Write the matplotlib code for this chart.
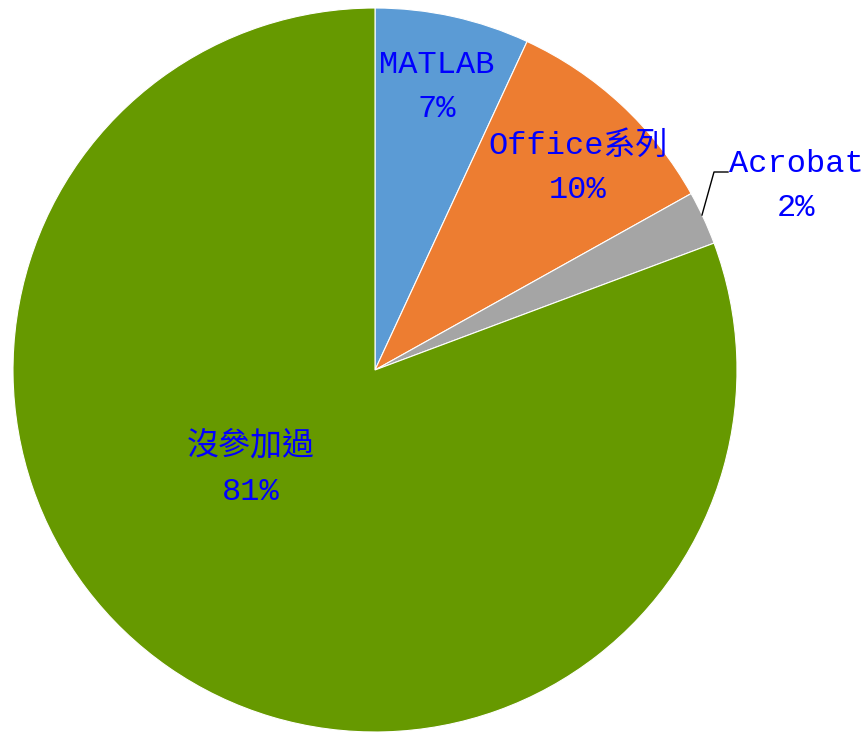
import matplotlib.pyplot as plt

# pie data
labels = ['MATLAB', 'Office系列', 'Acrobat', '沒參加過']
values = [6.9, 10.0, 2.4, 80.7]
pct_text = ['7%', '10%', '2%', '81%']
colors = ['#5B9BD5', '#ED7D31', '#A5A5A5', '#669900']

W, H = 867, 732
fig = plt.figure(figsize=(W / 100, H / 100), dpi=100)
ax = fig.add_axes([0, 0, 1, 1])

# pixel coords (y from top) of the pie center
cx, cy, r = 375, 370, 362
ax.pie(values, colors=colors, startangle=90, counterclock=False,
       center=(cx, H - cy), radius=r, frame=True,
       wedgeprops=dict(edgecolor='white', linewidth=0.8))
ax.set_xlim(0, W)
ax.set_ylim(0, H)
ax.set_aspect('equal')
ax.axis('off')

# label block centers, pixel coords
label_pos = [(437, 87), (578, 168), (796, 186), (251, 469)]
fam = ['Liberation Mono', 'Noto Sans CJK TC']
for lab, p, (x, y) in zip(labels, pct_text, label_pos):
    ax.text(x, H - y, lab + '\n' + p, ha='center', va='center',
            fontsize=23, color='#0000FF', family=fam, linespacing=1.65,
            multialignment='center')

# leader line for Acrobat
lx = [702, 714, 728]
ly = [215, 172, 172]
ax.plot(lx, [H - v for v in ly], color='black', lw=1)

fig.savefig('out.png', dpi=100)
